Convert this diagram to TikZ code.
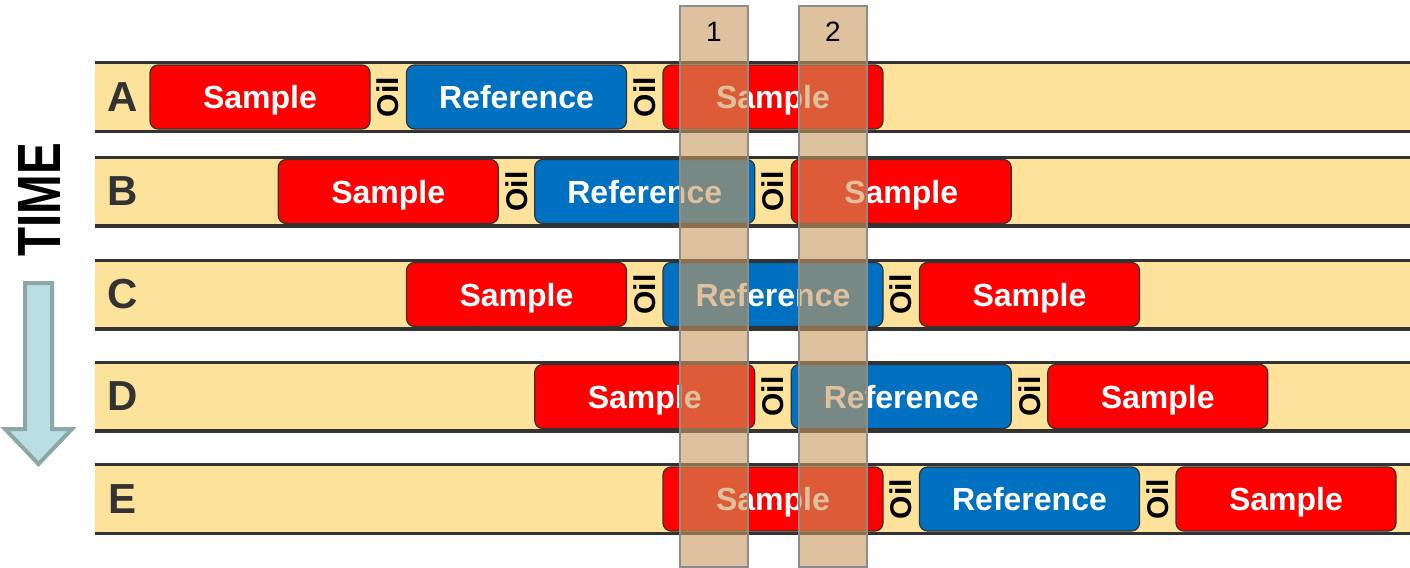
\documentclass[tikz,border=0pt]{standalone}
\usepackage{fontspec}
\setmainfont{Liberation Sans}
\definecolor{LaneYellow}{HTML}{FCE29B}
\definecolor{SampleRed}{HTML}{FF0000}
\definecolor{RefBlue}{HTML}{0070C0}
\definecolor{EdgeDark}{HTML}{333333}
\definecolor{WinTan}{HTML}{C8985D}
\definecolor{WinEdge}{HTML}{8C8C8C}
\definecolor{ArrowFill}{HTML}{B9DFE3}
\definecolor{ArrowEdge}{HTML}{8DA7A8}
\usetikzlibrary{positioning}

\begin{document}
\begin{tikzpicture}[x=0.5pt, y=-0.5pt,
   lane/.style={fill=LaneYellow, minimum width=657.5pt, minimum height=34pt, inner sep=0pt},
   laneedge/.style={draw=EdgeDark, line width=1.6pt},
   box/.style={draw=EdgeDark, line width=0.6pt, rounded corners=4pt, minimum width=110pt,
      minimum height=32pt, inner sep=0pt, text depth=0pt, text=white,
      font=\bfseries\fontsize{16}{16}\selectfont},
   sample/.style={box, fill=SampleRed},
   reference/.style={box, fill=RefBlue},
   oil/.style={rotate=90, inner sep=0pt, text=black, font=\bfseries\fontsize{15}{15}\selectfont},
   lanelabel/.style={inner sep=0pt, text=EdgeDark, font=\bfseries\fontsize{21}{21}\selectfont},
   window/.style={fill=WinTan, fill opacity=0.6, draw=WinEdge, draw opacity=1, line width=0.8pt,
      minimum width=34pt, minimum height=280.5pt, inner sep=0pt}
]
   \useasboundingbox (0,0) rectangle (1410,568);
   % Lanes
   \node[lane] (laneA) at (752.5,97) {};
   \node[lane] (laneB) at (752.5,191.5) {};
   \node[lane] (laneC) at (752.5,294.5) {};
   \node[lane] (laneD) at (752.5,396.5) {};
   \node[lane] (laneE) at (752.5,499) {};
   \foreach \l in {laneA,laneB,laneC,laneD,laneE}
      \draw[laneedge] (\l.north west) -- (\l.north east) (\l.south west) -- (\l.south east);
   % Lane letters
   \node[lanelabel] (labA) at (123,97) {A};
   \node[lanelabel] (labB) at (123,191.5) {B};
   \node[lanelabel] (labC) at (123,294.5) {C};
   \node[lanelabel] (labD) at (123,396.5) {D};
   \node[lanelabel] (labE) at (123,499) {E};
   % Row A
   \node[sample] (A1) at (260,97) {Sample};
   \node[oil] (Aoil1) at (388.25,97) {Oil};
   \node[reference] (A2) at (516.5,97) {Reference};
   \node[oil] (Aoil2) at (644.75,97) {Oil};
   \node[sample] (A3) at (773,97) {Sample};
   % Row B
   \node[sample] (B1) at (388.25,191.5) {Sample};
   \node[oil] (Boil1) at (516.5,191.5) {Oil};
   \node[reference] (B2) at (644.75,191.5) {Reference};
   \node[oil] (Boil2) at (773,191.5) {Oil};
   \node[sample] (B3) at (901.25,191.5) {Sample};
   % Row C
   \node[sample] (C1) at (516.5,294.5) {Sample};
   \node[oil] (Coil1) at (644.75,294.5) {Oil};
   \node[reference] (C2) at (773,294.5) {Reference};
   \node[oil] (Coil2) at (901.25,294.5) {Oil};
   \node[sample] (C3) at (1029.5,294.5) {Sample};
   % Row D
   \node[sample] (D1) at (644.75,396.5) {Sample};
   \node[oil] (Doil1) at (773,396.5) {Oil};
   \node[reference] (D2) at (901.25,396.5) {Reference};
   \node[oil] (Doil2) at (1029.5,396.5) {Oil};
   \node[sample] (D3) at (1157.75,396.5) {Sample};
   % Row E
   \node[sample] (E1) at (773,499) {Sample};
   \node[oil] (Eoil1) at (901.25,499) {Oil};
   \node[reference] (E2) at (1029.5,499) {Reference};
   \node[oil] (Eoil2) at (1157.75,499) {Oil};
   \node[sample] (E3) at (1286,499) {Sample};
   % TIME and its arrow
   \node[rotate=90, inner sep=0pt, font=\bfseries\fontsize{30.5}{30.5}\selectfont] (time) at (40,200)
      {\scalebox{0.78}[1]{TIME}};
   \draw[ArrowEdge, fill=ArrowFill, line width=2pt, line join=miter]
      (25,283) -- (52,283) -- (52,429) -- (72,429) -- (38.5,464) -- (5,429) -- (25,429) -- cycle;
   % Detection windows
   \node[window] (win1) at (714,286.5) {};
   \node[window] (win2) at (833,286.5) {};
   \node[font=\fontsize{14}{14}\selectfont] (win1lab) at (714,32) {1};
   \node[font=\fontsize{14}{14}\selectfont] (win2lab) at (833,32) {2};
\end{tikzpicture}
\end{document}
